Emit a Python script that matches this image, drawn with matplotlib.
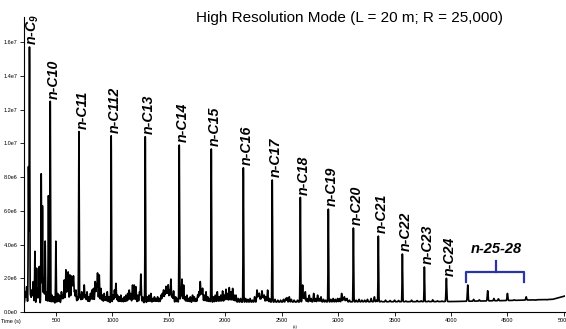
import matplotlib
matplotlib.use("Agg")
import matplotlib.pyplot as plt
import numpy as np

plt.rcParams["font.family"] = ["Liberation Sans", "DejaVu Sans"]
plt.rcParams["mathtext.fontset"] = "custom"
plt.rcParams["mathtext.rm"] = "Liberation Sans:bold:italic"
plt.rcParams["mathtext.it"] = "Liberation Sans:bold:italic"
plt.rcParams["mathtext.bf"] = "Liberation Sans:bold:italic"

# n-alkane peaks: retention time (s), apex intensity, label
alk_time = [265, 449, 703, 989, 1291, 1592, 1876, 2160, 2416, 2665, 2913,
            3135, 3356, 3569, 3764, 3959]
alk_height = [1.57e7, 1.25e7, 1.07e7, 1.045e7, 1.04e7, 0.99e7, 0.967e7, 0.855e7,
              0.783e7, 0.68e7, 0.61e7, 0.498e7, 0.45e7, 0.344e7, 0.267e7, 0.20e7]
alk_label = ["n-C$_9$", "n-C10", "n-C11", "n-C112", "n-C13", "n-C14", "n-C15",
             "n-C16", "n-C17", "n-C18", "n-C19", "n-C20", "n-C21", "n-C22",
             "n-C23", "n-C24"]

# heavier alkanes under the bracket
heavy_time = [4148, 4325, 4500, 4666]
heavy_height = [1.6e6, 1.26e6, 1.1e6, 0.9e6]

# smaller peaks (time, apex)
minor_time = [228, 240, 256, 275, 286, 298, 313, 328, 340, 352, 369, 380, 392, 404,
              418, 433, 465, 480, 499, 515, 530, 548, 560,
              573, 588, 600, 608, 623, 637, 646, 655, 665, 676, 690,
              715, 728, 740, 750, 762, 775, 790, 805, 818, 832, 847, 858, 868, 883,
              898, 912, 927, 940, 954, 970,
              1005, 1018, 1031, 1045, 1060, 1075, 1090, 1105, 1120, 1135, 1149, 1162,
              1178, 1193, 1208, 1225, 1240, 1252, 1268,
              1310, 1325, 1341, 1358, 1372, 1386, 1400, 1415, 1430, 1442, 1453, 1464,
              1474, 1484, 1494, 1506, 1518, 1530, 1542, 1560, 1575,
              1605, 1616, 1631, 1645, 1660, 1675, 1690, 1710, 1725, 1740, 1755, 1766,
              1778, 1789, 1799, 1814, 1829, 1845, 1860,
              1895, 1912, 1929, 1945, 1960, 1976, 1992, 2006, 2020, 2035, 2050, 2065,
              2080, 2095, 2115, 2135,
              2180, 2200, 2220, 2240, 2260, 2281, 2292, 2301, 2313, 2325, 2335, 2345,
              2360, 2375, 2392,
              2440, 2465, 2490, 2515, 2535, 2547, 2567, 2585, 2610, 2640,
              2685, 2697, 2709, 2725, 2744, 2760, 2783, 2800, 2818, 2833, 2848, 2870,
              2890,
              2935, 2955, 2975, 2995, 3012, 3031, 3045, 3055, 3068, 3078, 3100,
              3160, 3185, 3210, 3235, 3260, 3292, 3321, 3340,
              3380, 3420, 3460, 3500, 3535, 3600, 3650, 3700, 3735,
              3800, 3838, 3880, 3920, 4200, 4250, 4380, 4420, 4560, 4750, 4850]
minor_height = [1.2e6, 1.5e6, 8.6e6, 1.0e6, 1.3e6, 1.8e6, 3.6e6, 2.6e6, 1.4e6, 2.7e6,
                8.2e6, 6.3e6, 2.0e6, 4.2e6, 1.2e6, 6.9e6, 1.0e6, 0.9e6, 4.2e6, 1.1e6,
                1.0e6, 1.2e6, 1.0e6,
                1.9e6, 2.5e6, 1.6e6, 2.3e6, 2.2e6, 2.1e6, 1.5e6, 2.1e6, 1.2e6, 1.3e6,
                0.9e6,
                1.0e6, 1.2e6, 0.9e6, 1.6e6, 1.0e6, 1.2e6, 0.9e6, 1.1e6, 1.3e6, 1.4e6,
                1.8e6, 1.6e6, 2.3e6, 2.2e6, 1.4e6, 1.0e6, 1.1e6, 0.9e6, 1.2e6, 0.9e6,
                1.0e6, 1.3e6, 1.7e6, 1.0e6, 0.9e6, 1.0e6, 0.8e6, 0.9e6, 1.0e6, 1.1e6,
                1.3e6, 1.1e6, 1.6e6, 1.6e6, 1.5e6, 1.0e6, 1.2e6, 2.25e6, 0.9e6,
                0.9e6, 1.0e6, 1.1e6, 0.8e6, 0.9e6, 0.8e6, 0.9e6, 0.8e6, 1.0e6, 1.1e6,
                1.3e6, 1.1e6, 1.5e6, 1.2e6, 1.6e6, 1.3e6, 1.95e6, 1.0e6, 1.25e6, 0.9e6,
                0.8e6,
                1.0e6, 1.95e6, 1.6e6, 0.9e6, 1.0e6, 0.8e6, 0.9e6, 1.0e6, 0.9e6, 0.8e6,
                1.0e6, 1.2e6, 1.8e6, 1.2e6, 1.4e6, 1.0e6, 1.2e6, 0.9e6, 0.8e6,
                0.9e6, 1.0e6, 1.2e6, 0.9e6, 1.0e6, 1.25e6, 1.0e6, 1.35e6, 1.1e6, 1.45e6,
                1.2e6, 1.4e6, 1.0e6, 1.0e6, 0.8e6, 0.8e6,
                0.8e6, 0.75e6, 0.8e6, 0.7e6, 0.9e6, 1.3e6, 1.0e6, 1.1e6, 0.9e6, 1.25e6,
                0.9e6, 1.0e6, 0.9e6, 1.3e6, 0.8e6,
                0.75e6, 0.7e6, 0.7e6, 0.75e6, 0.8e6, 0.85e6, 0.9e6, 0.75e6, 0.7e6, 0.7e6,
                1.6e6, 0.9e6, 1.2e6, 0.8e6, 1.0e6, 0.8e6, 1.1e6, 0.8e6, 1.0e6, 0.8e6,
                0.9e6, 0.75e6, 0.7e6,
                0.75e6, 0.8e6, 0.75e6, 0.8e6, 0.8e6, 1.1e6, 0.8e6, 0.9e6, 0.75e6, 0.8e6,
                0.7e6,
                0.7e6, 0.75e6, 0.7e6, 0.7e6, 0.75e6, 0.8e6, 0.9e6, 0.7e6,
                0.65e6, 0.7e6, 0.68e6, 0.7e6, 0.68e6, 0.65e6, 0.7e6, 0.68e6, 0.66e6,
                0.65e6, 0.72e6, 0.66e6, 0.65e6, 0.75e6, 0.72e6, 0.8e6, 0.78e6, 0.72e6,
                0.7e6, 0.72e6]

# baseline level
base_time = [216, 1000, 2000, 3000, 4000, 4500, 4900, 5010]
base_level = [0.52e6, 0.55e6, 0.58e6, 0.6e6, 0.62e6, 0.68e6, 0.75e6, 0.95e6]

xtick_vals = [500, 1000, 1500, 2000, 2500, 3000, 3500, 4000, 4500, 5000]
ytick_vals = [0, 2e6, 4e6, 6e6, 8e6, 1e7, 1.2e7, 1.4e7, 1.6e7]
ytick_text = ["0.0e0", "2.0e6", "4.0e6", "6.0e6", "8.0e6", "1.0e7", "1.2e7",
              "1.4e7", "1.6e7"]

# build the trace
t = np.arange(216, 5011, 1.0)
base = np.interp(t, base_time, base_level)
trace = base.copy()
all_t = alk_time + heavy_time + minor_time
all_h = alk_height + heavy_height + minor_height
for tc, h in zip(all_t, all_h):
    sig = 2.5 if h > 2.5e6 else 3.5
    amp = h - np.interp(tc, base_time, base_level)
    trace += amp * np.exp(-0.5 * ((t - tc) / sig) ** 2)

fig = plt.figure(figsize=(5.66, 3.29), dpi=100)
ax = fig.add_axes([24 / 566, 17 / 329, 541 / 566, 295 / 329])
ax.plot(t, trace, color="black", lw=1.2)

ax.set_xlim(216.5, 5010)
ax.set_ylim(0, 1.75e7)
ax.spines["top"].set_visible(False)
ax.spines["right"].set_visible(False)
ax.set_xticks(xtick_vals)
ax.set_xticklabels([str(v) for v in xtick_vals])
ax.set_yticks(ytick_vals)
ax.set_yticklabels(ytick_text)
ax.tick_params(labelsize=4, length=3, width=0.6, pad=1.5)

# peak labels
for tc, h, lab in zip(alk_time, alk_height, alk_label):
    ax.annotate(lab, (tc, h), xytext=(2.5, 2), textcoords="offset points",
                rotation=90, ha="center", va="bottom", fontsize=10.2,
                fontweight="bold", fontstyle="italic")

# bracket for n-25-28
bx0, bx1, bmid = 4136, 4650, 4402
ax.plot([bx0, bx0, bx1, bx1], [1.78e6, 2.37e6, 2.37e6, 1.78e6], color="#2b35a0", lw=1.6)
ax.plot([bmid, bmid], [2.37e6, 3.03e6], color="#2b35a0", lw=1.6)
ax.text(bmid, 3.35e6, "n-25-28", ha="center", va="bottom", fontsize=10.5,
        fontweight="bold", fontstyle="italic")

fig.text(0.001, 5 / 329, "Time (s)", fontsize=4, ha="left", va="bottom")
fig.text(293 / 566, 0.0, "(s)", fontsize=3, ha="left", va="bottom")
fig.text(350 / 566, 1 - 18 / 329, "High Resolution Mode (L = 20 m; R = 25,000)",
         fontsize=11, ha="center", va="center")

fig.savefig("out.png", dpi=100)
